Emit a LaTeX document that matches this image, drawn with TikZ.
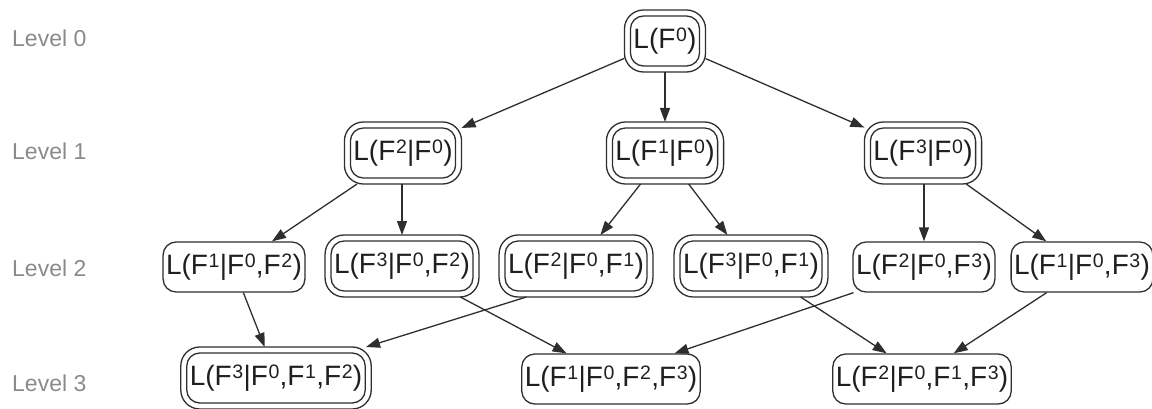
\documentclass[tikz,border=0pt]{standalone}
\usepackage{fontspec}
\setmainfont{Liberation Sans}
\usetikzlibrary{arrows.meta}
\newcommand\su[1]{\kern0.6pt\raisebox{7pt}{\fontsize{19.5}{20}\selectfont #1}\kern0.3pt}
\definecolor{ln}{HTML}{2E2E2E}
\definecolor{lv}{HTML}{8A8A8A}
\tikzset{
  box/.style={draw=ln, line width=1.3pt, rounded corners=13pt, minimum height=50pt,
    inner xsep=3pt, inner ysep=0pt, text=black!88, font=\fontsize{28}{30}\selectfont},
  dbl/.style={box, outer sep=6pt},
  outerline/.style={draw=ln, line width=1.3pt, rounded corners=19pt},
  edge/.style={draw=ln, line width=1.3pt, -{Triangle[length=14pt,width=10pt]}},
  lvl/.style={anchor=base west, text=lv, font=\fontsize{23}{25}\selectfont, inner sep=0pt}
}
\begin{document}
\begin{tikzpicture}[x=1pt,y=-1pt]
\useasboundingbox (0,0) rectangle (1152,409);
% level labels
\node[lvl] (l0) at (12,47) {Level 0};
\node[lvl] (l1) at (12,160) {Level 1};
\node[lvl] (l2) at (12,276) {Level 2};
\node[lvl] (l3) at (12,391) {Level 3};
% nodes
\node[dbl] (n0) at (665,41) {L(F\su{0})};
\node[dbl] (n1a) at (403,153) {L(F\su{2}|F\su{0})};
\node[dbl] (n1b) at (665,153) {L(F\su{1}|F\su{0})};
\node[dbl] (n1c) at (923,153) {L(F\su{3}|F\su{0})};
\node[box] (n2a) at (234,267) {L(F\su{1}|F\su{0},F\su{2})};
\node[dbl] (n2b) at (402,266) {L(F\su{3}|F\su{0},F\su{2})};
\node[dbl] (n2c) at (576,266) {L(F\su{2}|F\su{0},F\su{1})};
\node[dbl] (n2d) at (751,266) {L(F\su{3}|F\su{0},F\su{1})};
\node[box] (n2e) at (924,267) {L(F\su{2}|F\su{0},F\su{3})};
\node[box] (n2f) at (1082,267) {L(F\su{1}|F\su{0},F\su{3})};
\node[dbl] (n3a) at (276,378) {L(F\su{3}|F\su{0},F\su{1},F\su{2})};
\node[box] (n3b) at (611,379) {L(F\su{1}|F\su{0},F\su{2},F\su{3})};
\node[box] (n3c) at (922,379) {L(F\su{2}|F\su{0},F\su{1},F\su{3})};
\foreach \n in {n0,n1a,n1b,n1c,n2b,n2c,n2d,n3a}
  \draw[outerline] (\n.south west) rectangle (\n.north east);
% edges
\draw[edge] (n0) -- (n1a);
\draw[edge] (n0) -- (n1b);
\draw[edge] (n0) -- (n1c);
\draw[edge] (n1a) -- (n2a);
\draw[edge] (n1a.south -| n2b) -- (n2b);
\draw[edge] (n1b) -- (n2c);
\draw[edge] (n1b) -- (n2d);
\draw[edge] (n1c.south -| n2e) -- (n2e);
\draw[edge] (n1c) -- (n2f);
\draw[edge] (n2a.-70) -- (n3a.110);
\draw[edge] (n2c.-148) -- (n3a.19);
\draw[edge] (n2b.-28) -- (n3b.150);
\draw[edge] (n2e.-160) -- (n3b.22);
\draw[edge] (n2d.-32) -- (n3c.144);
\draw[edge] (n2f.-144) -- (n3c.39);
\end{tikzpicture}
\end{document}
